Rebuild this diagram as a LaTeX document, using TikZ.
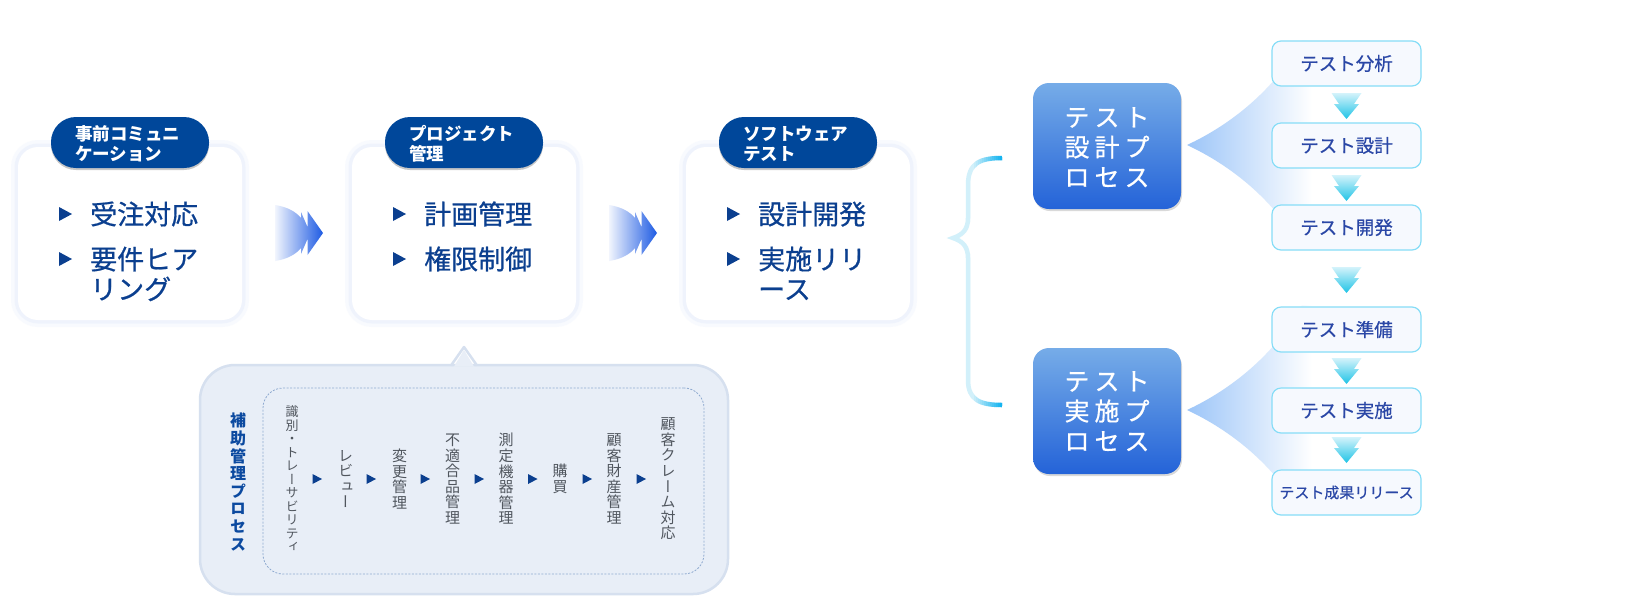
\documentclass[tikz,border=0pt]{standalone}
\usepackage{fontspec}
\setmainfont{Noto Sans CJK JP}
\newfontfamily\vjp[RawFeature=+vert]{Noto Sans CJK JP}
\newfontfamily\medjp[FakeBold=0.6]{Noto Sans CJK JP}
\usetikzlibrary{shadows}
\definecolor{navy}{HTML}{0B3F8F}
\definecolor{pillblue}{HTML}{00479A}
\definecolor{glowc}{HTML}{DDE6FA}
\definecolor{subfill}{HTML}{E8EEF7}
\definecolor{subborder}{HTML}{D6E0EF}
\definecolor{dashc}{HTML}{8FAAD0}
\definecolor{graytext}{HTML}{50565E}
\definecolor{labelblue}{HTML}{0C4AA0}
\definecolor{bluetop}{HTML}{76ACE8}
\definecolor{bluebot}{HTML}{2463D8}
\definecolor{stepborder}{HTML}{86DDF7}
\definecolor{stepfill}{HTML}{F6F9FE}
\definecolor{steptext}{HTML}{2A47A6}
\definecolor{cyantop}{HTML}{D4F3FB}
\definecolor{cyanbot}{HTML}{1EC3E6}
\definecolor{fanblue}{HTML}{9CC5F8}
\definecolor{arrowblue}{HTML}{1E5BE3}
\definecolor{bcyan}{HTML}{15B4F0}
\definecolor{bpale}{HTML}{D2F0FA}
\begin{document}
\begin{tikzpicture}[x=1pt,y=-1pt,
  mainbox/.style={fill=white, rounded corners=20, minimum width=224, minimum height=173, inner sep=0,
    preaction={draw=glowc, line width=14, opacity=0.18},
    preaction={draw=glowc, line width=7, opacity=0.3}},
  pill/.style={fill=pillblue, rounded corners=25, minimum width=158, minimum height=51, inner sep=0,
    drop shadow={shadow xshift=0pt, shadow yshift=-2pt, opacity=0.22, fill=black}},
  pilltext/.style={anchor=base west, inner sep=0, text=white, font=\bfseries\fontsize{17.5}{19}\selectfont},
  itemtext/.style={anchor=base west, inner sep=0, text=navy, font=\medjp\fontsize{27}{30}\selectfont},
  bluebox/.style={rounded corners=16, minimum width=148, minimum height=126, inner sep=0,
    top color=bluetop, bottom color=bluebot,
    drop shadow={shadow xshift=1pt, shadow yshift=-2pt, opacity=0.15, fill=black}},
  bluetext/.style={anchor=base, inner sep=0, text=white, font=\medjp\fontsize{25}{30}\selectfont},
  stepbox/.style={draw=stepborder, line width=1.2, fill=stepfill, rounded corners=9,
    minimum width=149, minimum height=45, inner sep=0, text=steptext, font=\medjp\fontsize{18.5}{20}\selectfont},
  vcol/.style={align=center, inner sep=0, text=graytext, font=\vjp\fontsize{15}{15.6}\selectfont},
  chevp/.style={insert path={(275,205) .. controls (288,207) and (296,212) .. (301,218) -- (301,212) -- (307.5,227)
      -- (307.5,211) -- (323,233) -- (307.5,255) -- (307.5,239) -- (301,254) -- (301,248)
      .. controls (296,254) and (288,259) .. (275,261) -- cycle}},
  bracep/.style={insert path={(1002,158) .. controls (980,158) and (968,163) .. (968,185) -- (968,218)
      .. controls (968,230) and (962,235) .. (953,238) .. controls (962,241) and (968,246) .. (968,258)
      -- (968,380) .. controls (968,400) and (980,405) .. (1002,405)}}
]
\useasboundingbox (0,0) rectangle (1635,598);
\fill[white] (0,0) rectangle (1635,598);

% ---------- main boxes ----------
\node[mainbox] (m1) at (130,233.5) {};
\node[mainbox] (m2) at (464,233.5) {};
\node[mainbox] (m3) at (798,233.5) {};
\node[pill] (p1) at (130,142.5) {};
\node[pill] (p2) at (464,142.5) {};
\node[pill] (p3) at (798,142.5) {};
\node[pilltext] (p1a) at (75,140.7) {事前コミュニ};
\node[pilltext] (p1b) at (75,160.7) {ケーション};
\node[pilltext] (p2a) at (409,140.7) {プロジェクト};
\node[pilltext] (p2b) at (409,160.7) {管理};
\node[pilltext] (p3a) at (743,140.7) {ソフトウェア};
\node[pilltext] (p3b) at (743,160.7) {テスト};

\foreach \ox in {0,334,668}{
  \fill[navy] (59+\ox,207) -- (72+\ox,214) -- (59+\ox,221) -- cycle;
  \fill[navy] (59+\ox,252) -- (72+\ox,259) -- (59+\ox,266) -- cycle;
}
\node[itemtext] (t1a) at (90,224.3) {受注対応};
\node[itemtext] (t1b) at (90,269.3) {要件ヒア};
\node[itemtext] (t1c) at (90,299.3) {リング};
\node[itemtext] (t2a) at (424,224.3) {計画管理};
\node[itemtext] (t2b) at (424,269.3) {権限制御};
\node[itemtext] (t3a) at (758,224.3) {設計開発};
\node[itemtext] (t3b) at (758,269.3) {実施リリ};
\node[itemtext] (t3c) at (758,299.3) {ース};

% chevron arrows
\shade[left color=arrowblue!6, right color=arrowblue, chevp];
\begin{scope}[xshift=334pt]
\shade[left color=arrowblue!6, right color=arrowblue, chevp];
\end{scope}

% ---------- sub process callout ----------
\draw[draw=subborder, line width=2.5, fill=subfill, rounded corners=35] (200,365) rectangle (728,594);
\fill[subfill] (454,366.5) -- (464,350) -- (474,366.5) -- cycle;
\draw[subborder, line width=2.5, line join=round] (451,365.5) -- (464,347) -- (477,365.5);
\node[draw=dashc, dash pattern=on 2pt off 1.5pt, line width=0.8, rounded corners=20,
  minimum width=441, minimum height=186, inner sep=0] (dbox) at (483.5,481) {};
\node[align=center, inner sep=0, text=labelblue, font=\vjp\bfseries\fontsize{16}{17.6}\selectfont]
  (lab) at (238,482) {補\\助\\管\\理\\プ\\ロ\\セ\\ス};

\node[vcol, font=\vjp\fontsize{13}{13.5}\selectfont] (v1) at (292,479) {識\\別\\・\\ト\\レ\\ー\\サ\\ビ\\リ\\テ\\ィ};
\node[vcol] (v2) at (345.5,479) {レ\\ビ\\ュ\\ー};
\node[vcol] (v3) at (399.5,479) {変\\更\\管\\理};
\node[vcol] (v4) at (452.5,479) {不\\適\\合\\品\\管\\理};
\node[vcol] (v5) at (506,479) {測\\定\\機\\器\\管\\理};
\node[vcol] (v6) at (560,479) {購\\買};
\node[vcol] (v7) at (614,479) {顧\\客\\財\\産\\管\\理};
\node[vcol] (v8) at (668,479) {顧\\客\\ク\\レ\\ー\\ム\\対\\応};
\foreach \ax in {317,371,425,479,532.5,587,641}{
  \fill[navy] (\ax-4.5,474) -- (\ax+5,479) -- (\ax-4.5,484) -- cycle;
}

% ---------- brace ----------
\foreach \i in {0,...,29}{
  \pgfmathsetmacro{\xa}{946+2*\i}
  \pgfmathsetmacro{\pp}{max(0,min(100,(\xa-972)*100/28))}
  \begin{scope}
    \clip (\xa,150) rectangle ({\xa+2.1},415);
    \draw[line width=4.5, draw=bcyan!\pp!bpale, bracep];
  \end{scope}
}

% ---------- fans ----------
\shade[left color=fanblue, right color=white] (1187,145) .. controls (1230,125) and (1275,90) .. (1302,40)
  -- (1312,40) -- (1312,250) -- (1302,250) .. controls (1275,200) and (1230,165) .. (1187,145) -- cycle;
\shade[left color=fanblue, right color=white] (1187,410) .. controls (1230,390) and (1275,355) .. (1302,305)
  -- (1312,305) -- (1312,515) -- (1302,515) .. controls (1275,465) and (1230,430) .. (1187,410) -- cycle;

% ---------- blue process boxes ----------
\node[bluebox] (ba) at (1107,146) {};
\node[bluebox] (bb) at (1107,411) {};
\node[bluetext] (ba1) at (1107,126.5) {テ\hspace{5pt}ス\hspace{5pt}ト};
\node[bluetext] (ba2) at (1107,156.5) {設\hspace{5pt}計\hspace{5pt}プ};
\node[bluetext] (ba3) at (1107,186.5) {ロ\hspace{5pt}セ\hspace{5pt}ス};
\node[bluetext] (bb1) at (1107,390.5) {テ\hspace{5pt}ス\hspace{5pt}ト};
\node[bluetext] (bb2) at (1107,420.5) {実\hspace{5pt}施\hspace{5pt}プ};
\node[bluetext] (bb3) at (1107,450.5) {ロ\hspace{5pt}セ\hspace{5pt}ス};

% ---------- step boxes ----------
\node[stepbox] (s1) at (1346.5,63.5) {テスト分析};
\node[stepbox] (s2) at (1346.5,145.5) {テスト設計};
\node[stepbox] (s3) at (1346.5,227.5) {テスト開発};
\node[stepbox] (s4) at (1346.5,329.5) {テスト準備};
\node[stepbox] (s5) at (1346.5,410.5) {テスト実施};
\node[stepbox, font=\medjp\fontsize{15}{17}\selectfont] (s6) at (1346.5,492.5) {テスト成果リリース};
\foreach \y in {93,175,267,358,437}{
  \shade[top color=cyantop, bottom color=cyanbot] (1331.5,\y) -- (1361.5,\y) -- (1354,\y+11) -- (1359,\y+11)
    -- (1346.5,\y+26) -- (1334,\y+11) -- (1339,\y+11) -- cycle;
}
\end{tikzpicture}
\end{document}
